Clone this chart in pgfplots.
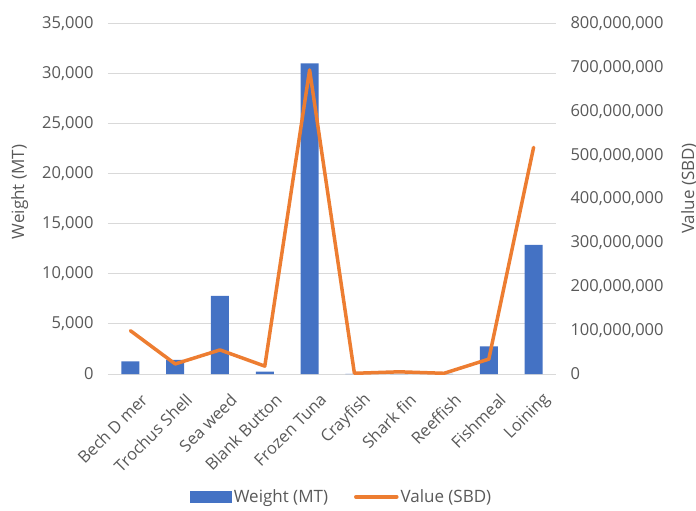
\documentclass[border=0pt]{standalone}
\usepackage{fontspec}
\setmainfont{Open Sans}
\usepackage{pgfplots}
\pgfplotsset{compat=1.18}
\definecolor{barblue}{HTML}{4472C4}
\definecolor{lineor}{HTML}{ED7D31}
\definecolor{txtgray}{HTML}{595959}
\definecolor{gridgray}{HTML}{D9D9D9}
\begin{document}
\begin{tikzpicture}
\path[use as bounding box] (-108pt,-137pt) rectangle (588pt,374pt);
\begin{axis}[
  at={(0pt,0pt)}, anchor=south west,
  scale only axis, width=448pt, height=350pt,
  xmin=-0.5, xmax=9.5, ymin=0, ymax=35000,
  axis y line*=left, axis x line*=bottom,
  y axis line style={draw=none},
  x axis line style={draw=gridgray, line width=1pt},
  ytick distance=5000,
  ymajorgrids, grid style={draw=gridgray, line width=1pt},
  major tick length=0pt,
  xtick={0,...,9},
  xticklabels={Bech D mer,Trochus Shell,Sea weed,Blank Button,Frozen Tuna,Crayfish,Shark fin,Reeffish,Fishmeal,Loining},
  x tick label style={rotate=45, anchor=east, xshift=-3pt, yshift=-26pt},
  scaled y ticks=false,
  /pgf/number format/.cd, fixed, precision=0, 1000 sep={,}, assume math mode=true,
  /pgfplots/.cd,
  tick label style={font=\fontsize{16.5}{20}\selectfont, text=txtgray},
  y tick label style={xshift=-11pt},
  ylabel={Weight (MT)},
  ylabel style={font=\fontsize{17}{20}\selectfont, text=txtgray, at={(axis description cs:-0.197,0.52)}, anchor=center, rotate=0},
]
\addplot[ybar, bar width=18pt, fill=barblue, draw=none] coordinates {
  (0,1250) (1,1400) (2,7800) (3,230) (4,31050) (5,15) (6,5) (7,10) (8,2750) (9,12900)
};
\end{axis}
\begin{axis}[
  at={(0pt,0pt)}, anchor=south west,
  scale only axis, width=448pt, height=350pt,
  xmin=-0.5, xmax=9.5, ymin=0, ymax=800000000,
  axis y line*=right, axis x line=none,
  y axis line style={draw=none},
  ytick distance=100000000,
  major tick length=0pt,
  scaled y ticks=false,
  /pgf/number format/.cd, fixed, precision=0, 1000 sep={,}, assume math mode=true,
  /pgfplots/.cd,
  tick label style={font=\fontsize{16.5}{20}\selectfont, text=txtgray},
  y tick label style={xshift=11pt},
  ylabel={Value (SBD)},
  ylabel style={font=\fontsize{17}{20}\selectfont, text=txtgray, at={(axis description cs:1.297,0.53)}, anchor=center, rotate=0},
  legend columns=2,
  legend style={at={(axis description cs:0.522,-0.351)}, anchor=center, draw=none, fill=none,
    font=\fontsize{17}{20}\selectfont, text=txtgray,
    /tikz/every even column/.append style={column sep=24pt}},
]
\addlegendimage{legend image code/.code={\fill[barblue] (0pt,-5.5pt) rectangle (41pt,5.5pt);}}
\addlegendentry{Weight (MT)}
\addlegendimage{legend image code/.code={\draw[lineor, line width=3.5pt, line cap=round] (2pt,0pt) -- (43pt,0pt);}}
\addlegendentry{Value (SBD)}
\addplot[lineor, line width=3.5pt, line join=round, line cap=round, forget plot] coordinates {
  (0,99000000) (1,23000000) (2,55000000) (3,18000000) (4,695000000) (5,1600000) (6,5000000) (7,1600000) (8,34000000) (9,518000000)
};
\end{axis}
\end{tikzpicture}
\end{document}
